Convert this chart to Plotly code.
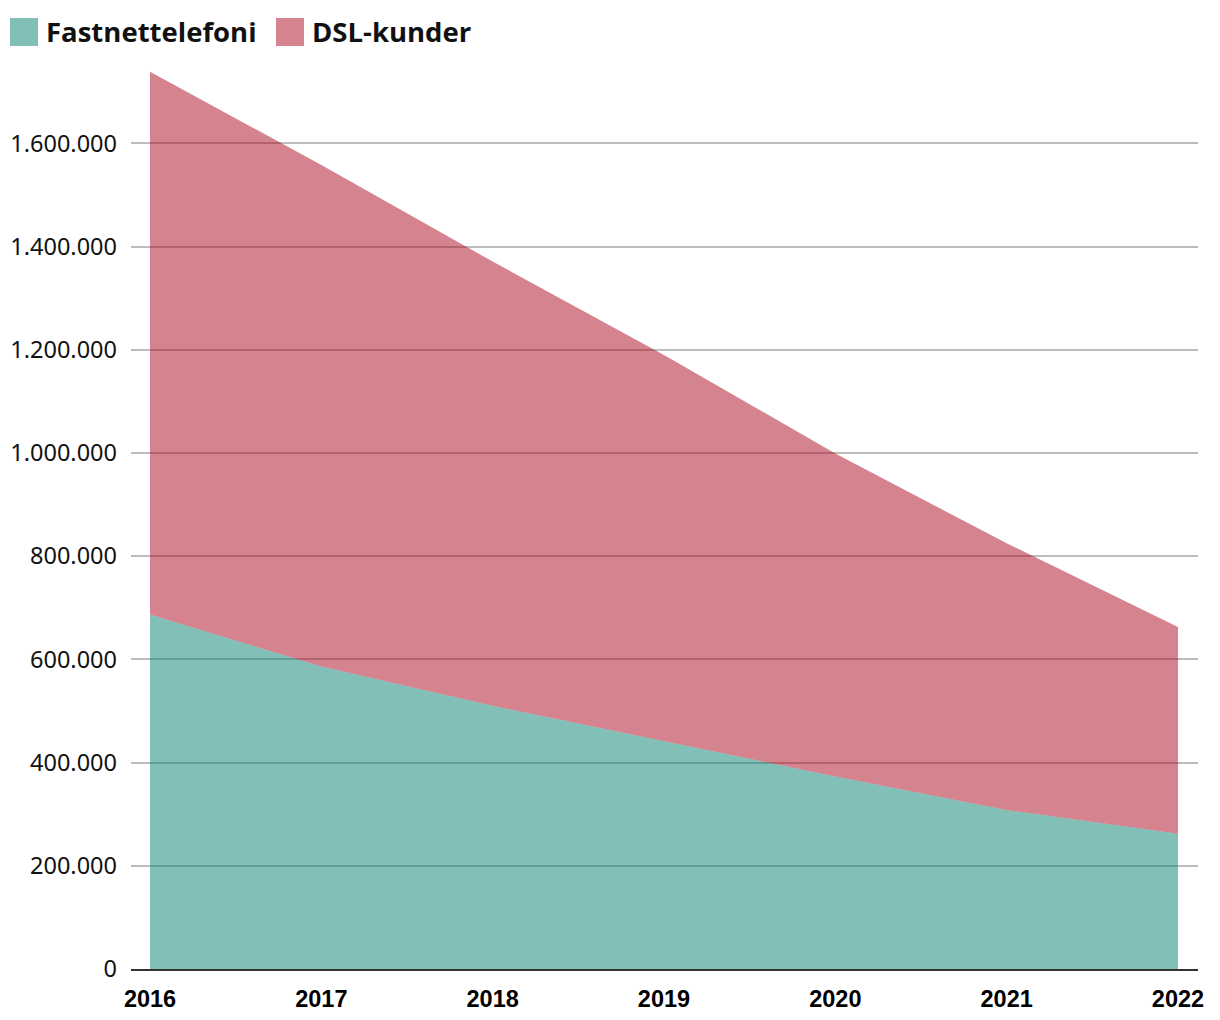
import plotly.graph_objects as go

years = [2016, 2017, 2018, 2019, 2020, 2021, 2022]
fastnettelefoni = [687000, 586000, 510000, 441000, 373000, 308000, 262000]
dsl_kunder = [1052000, 972000, 861000, 749000, 626000, 517000, 401000]
series_names = ["Fastnettelefoni", "DSL-kunder"]
y_ticks = [0, 200000, 400000, 600000, 800000, 1000000, 1200000, 1400000, 1600000]

TEAL = "rgba(5,127,111,0.5)"
PINK = "rgba(169,7,31,0.5)"

fig = go.Figure()
fig.add_trace(go.Scatter(x=years, y=fastnettelefoni, name=series_names[0],
                         stackgroup="one", mode="lines", line=dict(width=0),
                         fillcolor=TEAL, showlegend=False, hoverinfo="x+y"))
fig.add_trace(go.Scatter(x=years, y=dsl_kunder, name=series_names[1],
                         stackgroup="one", mode="lines", line=dict(width=0),
                         fillcolor=PINK, showlegend=False, hoverinfo="x+y"))

# The page body has an 8px margin, so the figure is offset by 8px.
OFF = 8
W, H = 1220 - OFF, 1020 - OFF
L, R, T, B = 131 - OFF, 22, 66 - OFF, 51
pw, ph = W - L - R, H - T - B

def px_x(p):
    return (p - OFF - L) / pw

def px_y(p):
    return (H - B - (p - OFF)) / ph

legend_items = [(10, 47, TEAL, series_names[0]), (276, 313, PINK, series_names[1])]
for sx, tx, col, label in legend_items:
    fig.add_shape(type="rect", xref="paper", yref="paper",
                  x0=px_x(sx), x1=px_x(sx + 28), y0=px_y(46), y1=px_y(18),
                  fillcolor=col, line=dict(width=0))
    fig.add_annotation(xref="paper", yref="paper", x=px_x(tx - 3), y=px_y(32),
                       xanchor="left", yanchor="middle", showarrow=False,
                       text=label,
                       font=dict(family="Open Sans", size=27.5, color="#111111", weight="bold"))

fig.update_layout(
    width=W, height=H,
    margin=dict(l=L, r=R, t=T, b=B, pad=0, autoexpand=False),
    paper_bgcolor="white", plot_bgcolor="white",
    separators=",.",
    showlegend=False,
    xaxis=dict(range=[2015.889, 2022.117], tickvals=years, ticktext=[str(y) for y in years],
               showgrid=False, zeroline=False, showline=True, linecolor="#333333",
               linewidth=2, ticks="", ticklabelstandoff=8, automargin=False,
               tickfont=dict(family="Liberation Sans", size=23.5, color="#000000", weight="bold")),
    yaxis=dict(range=[0, 1750000], tickvals=y_ticks, tickformat=",d",
               showgrid=True, gridcolor="#bdbdbd", gridwidth=1.5, automargin=False,
               zeroline=False, showline=False, ticks="", ticklabelstandoff=13,
               tickfont=dict(family="Noto Sans", size=23.5, color="#111111")),
)

fig.write_html("out.html")
